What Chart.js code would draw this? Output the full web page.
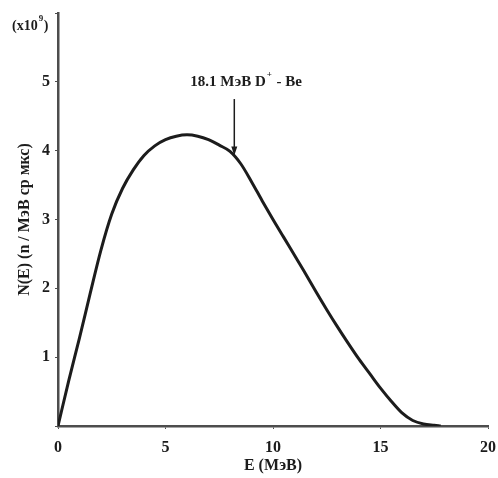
<!DOCTYPE html>
<html>
<head>
<meta charset="utf-8">
<script src="https://cdn.jsdelivr.net/npm/chart.js@4"></script>
<style>
  html, body { margin: 0; padding: 0; background: #fff; }
  #wrap { width: 498px; height: 478px; }
</style>
</head>
<body>
<div id="wrap"><canvas id="spectrum"></canvas></div>
<script>
// energy (MeV) and neutron yield N(E)
const energy = [0, 0.5, 1.0, 1.5, 2.0, 2.5, 3.0, 3.5, 4.0, 4.5, 5.0, 5.5, 6.0, 6.5, 7.0, 7.5, 8.0, 8.5, 9.0, 9.5, 10.0,
  10.5, 11.0, 11.5, 12.0, 12.5, 13.0, 13.5, 14.0, 14.5, 15.0, 15.5, 16.0, 16.5, 17.0, 17.5, 17.8];
const yieldN = [0, 0.66, 1.28, 1.93, 2.56, 3.08, 3.45, 3.72, 3.93, 4.07, 4.16, 4.21, 4.23, 4.21, 4.16, 4.08, 3.99, 3.81, 3.55, 3.27, 3.0,
  2.74, 2.48, 2.22, 1.95, 1.69, 1.44, 1.2, 0.97, 0.76, 0.55, 0.36, 0.19, 0.08, 0.03, 0.01, 0];

const xTicks = [0, 5, 10, 15, 20];
const yTicks = [1, 2, 3, 4, 5];

// arrow marking the beam label
const arrowE = 8.2;
const arrowFrom = 4.75;
const arrowTo = 3.93;
const labelE = 8.75;
const labelN = 5.0;

const serif = '"Liberation Serif", "DejaVu Serif", serif';
const ink = '#1c1c1c';
const axisGrey = '#4d4d4d';

const extras = {
  id: 'extras',
  afterDraw(chart) {
    const c = chart.ctx;
    const xs = chart.scales.x, ys = chart.scales.y;
    c.save();
    c.fillStyle = ink;
    c.strokeStyle = ink;
    c.textBaseline = 'middle';
    c.textAlign = 'left';

    // multiplier at top of y axis
    c.font = 'bold 14px ' + serif;
    const m = '(x10';
    const wm = c.measureText(m).width;
    c.fillText(m, 12, 26);
    c.font = 'bold 9px ' + serif;
    c.fillText('9', 12 + wm + 1, 19);
    c.font = 'bold 14px ' + serif;
    c.fillText(')', 12 + wm + 6, 26);

    // beam label
    const lx = xs.getPixelForValue(labelE);
    const ly = ys.getPixelForValue(labelN);
    c.font = 'bold 15px ' + serif;
    const a = '18.1 МэВ D', b = ' - Be';
    const wa = c.measureText(a).width, wb = c.measureText(b).width, wp = 7;
    const sx = lx - (wa + wp + wb) / 2;
    c.fillText(a, sx, ly);
    c.font = 'bold 9px ' + serif;
    c.fillText('+', sx + wa + 1, ly - 7);
    c.font = 'bold 15px ' + serif;
    c.fillText(b, sx + wa + wp, ly);

    // arrow
    const ax = xs.getPixelForValue(arrowE);
    const y1 = ys.getPixelForValue(arrowFrom);
    const y2 = ys.getPixelForValue(arrowTo);
    c.lineWidth = 1.5;
    c.beginPath();
    c.moveTo(ax, y1);
    c.lineTo(ax, y2 - 4);
    c.stroke();
    c.beginPath();
    c.moveTo(ax - 3, y2 - 9);
    c.lineTo(ax + 3, y2 - 9);
    c.lineTo(ax, y2);
    c.closePath();
    c.fill();
    c.restore();
  }
};

new Chart(document.getElementById('spectrum'), {
  type: 'line',
  data: {
    datasets: [{
      data: energy.map((e, i) => ({ x: e, y: yieldN[i] })),
      borderColor: ink,
      borderWidth: 3,
      pointRadius: 0,
      fill: false,
      cubicInterpolationMode: 'monotone'
    }]
  },
  options: {
    responsive: true,
    maintainAspectRatio: false,
    animation: false,
    layout: { padding: { top: 13, right: 10, left: 0, bottom: 0 } },
    plugins: { legend: { display: false }, tooltip: { enabled: false } },
    scales: {
      x: {
        type: 'linear',
        min: 0,
        max: 20,
        afterBuildTicks: s => { s.ticks = xTicks.map(v => ({ value: v })); },
        afterFit: s => { s.height = 52; s.paddingRight = 0; s.paddingLeft = 0; },
        grid: { display: true, drawOnChartArea: false, tickLength: 3, color: axisGrey },
        border: { display: true, color: axisGrey, width: 2.5 },
        ticks: { color: ink, padding: 9, font: { family: serif, size: 16, weight: 'bold' }, maxRotation: 0 },
        title: { display: true, text: 'E (МэВ)', color: ink, padding: { top: 0, bottom: 3 }, font: { family: serif, size: 16, weight: 'bold' } }
      },
      y: {
        min: 0,
        max: 6,
        afterBuildTicks: s => { s.ticks = [0].concat(yTicks, [6]).map(v => ({ value: v })); },
        afterFit: s => { s.width = 58; s.paddingTop = 0; s.paddingBottom = 0; },
        grid: { display: true, drawOnChartArea: false, tickLength: 3, color: axisGrey },
        border: { display: true, color: axisGrey, width: 2.5 },
        ticks: {
          color: ink, padding: 5,
          font: { family: serif, size: 16, weight: 'bold' },
          callback: v => yTicks.includes(v) ? String(v) : ''
        },
        title: { display: true, text: 'N(E) (n / МэВ ср мкс)', color: ink, padding: { top: 15, bottom: 0 }, font: { family: serif, size: 16, weight: 'bold' } }
      }
    }
  },
  plugins: [extras]
});
</script>
</body>
</html>
